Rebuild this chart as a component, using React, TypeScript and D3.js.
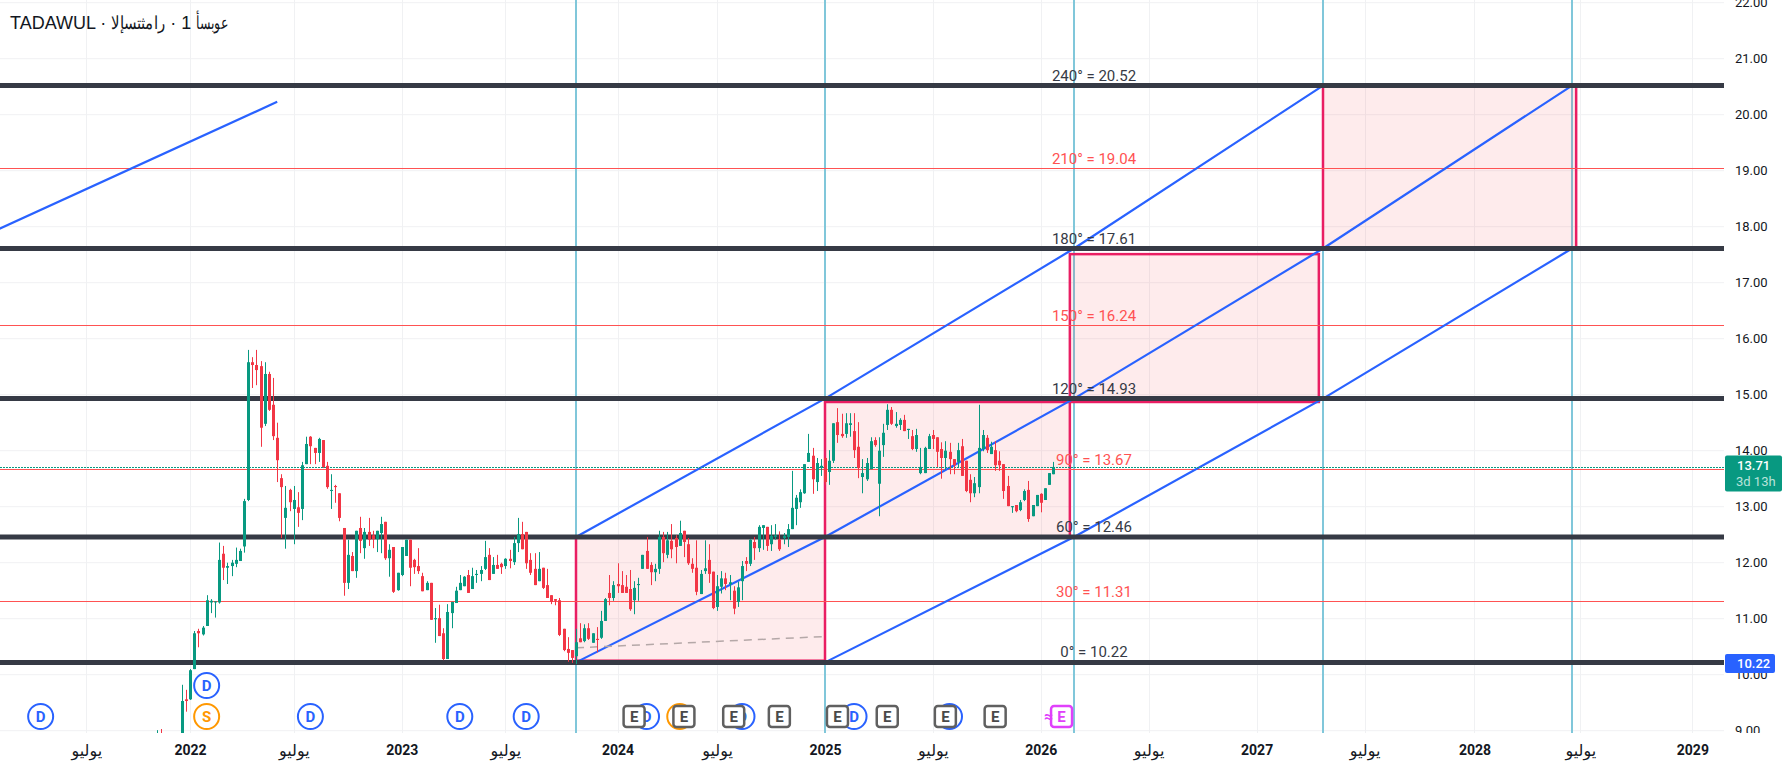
import { useEffect, useRef } from "react";
import * as d3 from "d3";

const WIDTH = 1789;
const HEIGHT = 768;
const PLOT_RIGHT = 1724;
const PLOT_BOTTOM = 733;

const FONT = "Roboto, 'Liberation Sans', 'DejaVu Sans', sans-serif";
const GREEN = "#089981";
const RED = "#f23645";
const BLUE = "#2962ff";
const PINK = "#e91e63";
const DARK = "#363a45";
const LEVEL_RED = "#ff5252";

// weekly candles, [open, high, low, close], first one is bar FIRST_BAR
const FIRST_BAR = -101;
const bars2021: number[][] = [
  [8.7, 9.01, 8.6, 8.9], [8.9, 9.03, 8.6, 8.7], [8.7, 8.85, 8.5, 8.6], [8.6, 8.8, 8.5, 8.7],
  [8.7, 8.9, 8.55, 8.6], [8.6, 8.85, 8.5, 8.7], [8.7, 9.82, 8.6, 9.53], [9.56, 9.73, 9.34, 9.53],
];
const bars2022: number[][] = [
  [9.56, 10.1, 9.55, 10.08], [10.1, 10.78, 10.1, 10.74], [10.78, 10.82, 10.49, 10.74], [10.72, 10.87, 10.7, 10.84],
  [10.87, 11.42, 10.87, 11.33], [11.29, 11.35, 11.1, 11.32], [11.29, 11.31, 11.02, 11.31], [11.29, 12.36, 11.27, 12.05],
  [12.16, 12.3, 11.69, 11.91], [11.91, 12.0, 11.62, 11.94], [11.94, 12.05, 11.76, 12.0], [11.98, 12.27, 11.92, 12.05],
  [12.03, 12.25, 12.03, 12.21], [12.29, 13.14, 12.18, 13.1], [13.12, 15.8, 13.1, 15.58], [15.58, 15.67, 15.12, 15.53],
  [15.53, 15.8, 15.17, 15.44], [15.51, 15.6, 14.07, 14.41], [14.48, 15.58, 14.44, 15.37], [15.37, 15.41, 14.71, 14.73],
  [14.82, 15.3, 14.19, 14.26], [14.23, 14.5, 13.44, 13.83], [13.51, 13.58, 12.44, 13.35], [12.8, 13.37, 12.25, 12.98],
  [13.3, 13.32, 12.92, 13.08], [12.96, 13.37, 12.33, 13.12], [12.99, 13.26, 12.64, 12.89], [12.96, 13.8, 12.76, 13.74],
  [13.76, 14.25, 13.76, 14.12], [14.25, 14.26, 13.76, 14.08], [14.05, 14.05, 13.76, 13.96], [13.96, 14.23, 13.8, 14.21],
  [14.19, 14.19, 13.69, 13.71], [13.73, 13.8, 13.32, 13.35], [13.28, 13.58, 12.96, 13.3], [13.37, 13.39, 13.07, 13.35],
  [13.24, 13.24, 12.74, 12.8], [12.62, 12.62, 11.41, 11.64], [11.64, 12.41, 11.53, 12.14], [12.12, 12.19, 11.85, 11.85],
  [11.85, 12.57, 11.73, 12.57], [12.62, 12.82, 12.17, 12.39], [12.26, 12.62, 12.07, 12.55], [12.55, 12.8, 12.3, 12.41],
  [12.49, 12.57, 12.26, 12.42], [12.42, 12.57, 12.19, 12.57], [12.53, 12.82, 12.17, 12.69], [12.73, 12.73, 12.05, 12.08],
  [12.08, 12.33, 11.75, 12.23], [12.28, 12.28, 11.46, 11.48], [11.51, 11.82, 11.5, 11.82], [11.78, 12.28, 11.76, 12.28],
];
const bars2023: number[][] = [
  [12.12, 12.41, 12.12, 12.41], [12.41, 12.41, 11.58, 11.91], [12.05, 12.07, 11.8, 11.92], [11.94, 12.26, 11.8, 11.85],
  [11.76, 11.82, 11.49, 11.49], [11.51, 11.67, 11.51, 11.64], [11.64, 11.64, 10.98, 10.98], [10.99, 11.19, 10.57, 11.01],
  [11.01, 11.25, 10.69, 10.69], [10.74, 10.83, 10.26, 10.28], [10.28, 11.26, 10.28, 11.12], [11.1, 11.3, 10.83, 11.3],
  [11.28, 11.57, 11.28, 11.5], [11.51, 11.78, 11.51, 11.64], [11.58, 11.76, 11.58, 11.75], [11.78, 11.87, 11.46, 11.46],
  [11.53, 11.91, 11.53, 11.76], [11.78, 11.87, 11.64, 11.8], [11.8, 11.94, 11.67, 11.87], [11.89, 12.39, 11.87, 12.1],
  [12.14, 12.26, 11.69, 11.69], [11.8, 12.1, 11.8, 11.96], [11.96, 12.14, 11.89, 11.89], [11.98, 12.0, 11.8, 11.92],
  [11.94, 12.08, 11.89, 12.07], [12.07, 12.23, 11.9, 12.03], [12.01, 12.46, 11.96, 12.35], [12.35, 12.8, 12.19, 12.51],
  [12.51, 12.73, 12.24, 12.24], [12.55, 12.55, 11.89, 11.99], [12.05, 12.17, 11.78, 11.82], [11.89, 12.17, 11.6, 11.6],
  [11.67, 12.19, 11.67, 11.89], [11.91, 11.91, 11.53, 11.55], [11.6, 11.89, 11.37, 11.37], [11.42, 11.42, 11.26, 11.3],
  [11.35, 11.35, 11.24, 11.32], [11.33, 11.37, 10.69, 10.71], [10.82, 10.82, 10.42, 10.44], [10.46, 10.67, 10.23, 10.39],
  [10.44, 10.44, 10.21, 10.3],
];
const bars2024: number[][] = [
  [10.33, 10.82, 10.19, 10.58], [10.65, 10.92, 10.58, 10.58], [10.6, 10.9, 10.58, 10.83], [10.83, 10.92, 10.62, 10.64],
  [10.57, 10.74, 10.57, 10.74], [10.64, 10.85, 10.4, 10.62], [10.66, 11.14, 10.64, 10.96], [10.96, 11.37, 10.96, 11.35],
  [11.46, 11.78, 11.24, 11.37], [11.37, 11.67, 11.32, 11.6], [11.62, 11.99, 11.46, 11.58], [11.6, 11.85, 11.46, 11.46],
  [11.57, 11.78, 11.46, 11.46], [11.53, 11.87, 11.14, 11.17], [11.33, 11.67, 11.08, 11.55], [11.6, 11.73, 11.32, 11.62],
  [11.89, 12.14, 11.89, 12.14], [12.21, 12.46, 11.89, 11.89], [11.96, 12.01, 11.6, 11.83], [11.83, 11.98, 11.67, 11.89],
  [11.89, 12.57, 11.8, 12.46], [12.46, 12.55, 12.01, 12.17], [12.14, 12.55, 12.08, 12.4], [12.39, 12.69, 12.08, 12.24],
  [12.44, 12.49, 11.99, 12.28], [12.3, 12.75, 12.3, 12.53], [12.57, 12.57, 12.1, 12.37], [12.33, 12.44, 11.96, 11.99],
  [11.98, 12.08, 11.82, 11.89], [11.91, 12.4, 11.42, 11.48], [11.44, 11.87, 11.44, 11.8], [11.85, 12.4, 11.8, 11.9],
  [12.05, 12.33, 11.64, 11.8], [11.84, 11.84, 11.17, 11.19], [11.21, 11.78, 11.14, 11.58], [11.57, 11.85, 11.45, 11.72],
  [11.72, 11.82, 11.51, 11.62], [11.62, 11.78, 11.33, 11.65], [11.5, 11.58, 11.08, 11.18], [11.3, 11.66, 11.21, 11.56],
  [11.67, 12.03, 11.33, 11.94], [12.03, 12.1, 11.85, 11.98], [11.98, 12.42, 11.94, 12.41], [12.37, 12.46, 12.05, 12.26],
  [12.26, 12.67, 12.19, 12.64], [12.62, 12.67, 12.23, 12.67], [12.64, 12.64, 12.21, 12.3], [12.33, 12.67, 12.21, 12.48],
  [12.46, 12.69, 12.41, 12.49], [12.42, 12.56, 12.21, 12.24], [12.44, 12.53, 12.33, 12.48], [12.46, 12.69, 12.28, 12.6],
  [12.6, 13.64, 12.6, 12.98], [12.96, 13.21, 12.67, 13.16], [13.08, 13.31, 12.98, 13.26], [13.24, 13.76, 13.23, 13.76],
  [13.8, 14.3, 13.8, 13.96], [13.91, 14.05, 13.23, 13.49], [13.44, 13.87, 13.28, 13.78], [13.69, 13.85, 13.55, 13.73],
];
const bars2025: number[][] = [
  [13.87, 13.87, 13.39, 13.44], [13.62, 14.01, 13.39, 13.82], [13.82, 14.49, 13.78, 14.49], [14.51, 14.76, 14.14, 14.28],
  [14.3, 14.66, 14.23, 14.26], [14.3, 14.67, 14.23, 14.49], [14.46, 14.67, 14.25, 14.49], [14.35, 14.67, 13.87, 14.01],
  [14.07, 14.51, 13.51, 13.69], [13.53, 13.85, 13.24, 13.6], [13.49, 13.87, 13.46, 13.78], [13.67, 14.24, 13.67, 14.17],
  [14.19, 14.24, 14.07, 14.1], [13.41, 14.24, 12.83, 14.0], [14.1, 14.48, 13.89, 14.32], [14.46, 14.83, 14.37, 14.73],
  [14.73, 14.78, 14.46, 14.48], [14.44, 14.69, 14.41, 14.48], [14.46, 14.58, 14.37, 14.55], [14.55, 14.64, 14.35, 14.35],
  [14.37, 14.39, 14.21, 14.39], [14.26, 14.37, 14.01, 14.03], [14.03, 14.39, 13.98, 14.28], [13.6, 14.05, 13.58, 13.71],
  [13.6, 14.07, 13.6, 14.05], [14.03, 14.3, 14.03, 14.26], [14.28, 14.37, 14.03, 14.21], [14.24, 14.24, 13.71, 13.98],
  [14.03, 14.15, 13.5, 13.87], [13.87, 14.17, 13.66, 14.0], [13.98, 14.14, 13.58, 13.85], [13.85, 13.85, 13.58, 13.74],
  [13.8, 14.14, 13.69, 14.01], [14.08, 14.21, 13.55, 13.55], [13.82, 13.82, 13.26, 13.28], [13.48, 13.58, 13.08, 13.24],
  [13.24, 13.53, 13.17, 13.42], [13.35, 14.82, 13.24, 14.05], [14.03, 14.37, 13.99, 14.28], [14.23, 14.28, 13.96, 14.01],
  [13.94, 14.16, 13.94, 14.07], [14.01, 14.17, 13.64, 13.74], [13.82, 13.99, 13.64, 13.74], [13.76, 13.76, 13.14, 13.28],
  [13.37, 13.55, 13.01, 13.01], [12.99, 13.01, 12.89, 13.01], [13.03, 13.03, 12.9, 12.92], [12.94, 13.12, 12.92, 13.08],
  [13.12, 13.31, 13.1, 13.28], [13.3, 13.46, 12.73, 12.78], [12.83, 13.03, 12.83, 13.03], [13.01, 13.21, 13.01, 13.21],
  [13.23, 13.24, 12.9, 13.07], [13.12, 13.33, 13.12, 13.33], [13.39, 13.6, 13.39, 13.6], [13.58, 13.8, 13.58, 13.71],
];

const priceTicks = [9, 10, 11, 12, 13, 14, 15, 16, 17, 18, 19, 20, 21, 22];
const timeTickBars = [-118, -93, -68, -42, -17, 10, 34, 60, 86, 112, 138, 164, 190, 216.5, 242, 269];
const timeTickLabels = ["يوليو", "2022", "يوليو", "2023", "يوليو", "2024", "يوليو", "2025", "يوليو", "2026", "يوليو", "2027", "يوليو", "2028", "يوليو", "2029"];

const cycleBars = [0, 60, 120, 180, 240];
const majorLevels = [10.22, 12.46, 14.93, 17.61, 20.52];
const majorAngles = [0, 60, 120, 180, 240];
const minorLevels = [11.31, 13.67, 16.24, 19.04];
const minorAngles = [30, 90, 150, 210];

// pink squares: bar from, bar to, low, high
const boxBars = [[0, 60], [60, 119], [119, 179], [180, 241]];
const boxPrices = [[10.25, 12.45], [12.47, 14.87], [14.87, 17.51], [17.61, 20.52]];

const fanMiddle = [10.22, 12.46, 14.93, 17.61, 20.52];
const fanUpper = [12.46, 14.93, 17.61, 20.52];
const fanLower = [10.22, 12.46, 14.93, 17.61];
const strayLineBars = [-139, -72];
const strayLinePrices = [17.96, 20.23];
const dashedBars = [0, 59.5];
const dashedPrices = [10.48, 10.68];

const dividendBars = [-129, -89, -64, -28, -12, 17, 40, 67, 90];
const dividendRows = [0, 1, 0, 0, 0, 0, 0, 0, 0];
const splitBars = [-89, 25];
const earningsBars = [14, 26, 38, 49, 63, 75, 89, 101];
const nextEarningsBar = 117;

const LAST_PRICE = 13.71;
const BASE_PRICE = 10.22;

export default function App() {
  const ref = useRef<HTMLDivElement>(null);

  useEffect(() => {
    if (!ref.current) return undefined;
    document.body.style.margin = "0";
    document.body.style.background = "#fff";

    const svg = d3
      .select(ref.current)
      .html("")
      .append("svg")
      .attr("width", WIDTH)
      .attr("height", HEIGHT)
      .attr("viewBox", `0 0 ${WIDTH} ${HEIGHT}`)
      .style("display", "block")
      .style("font-family", FONT);

    const x = d3.scaleLinear().domain([0, 240]).range([576, 1572]);
    const y = d3.scaleLinear().domain([9, 14]).range([730.7, 450.7]);

    svg.append("clipPath").attr("id", "plot").append("rect").attr("width", PLOT_RIGHT).attr("height", PLOT_BOTTOM);
    svg.append("clipPath").attr("id", "axis").append("rect").attr("width", WIDTH).attr("height", PLOT_BOTTOM);

    const plot = svg.append("g").attr("clip-path", "url(#plot)");

    // grid
    plot
      .selectAll("line.gy")
      .data(priceTicks)
      .join("line")
      .attr("class", "gy")
      .attr("x1", 0)
      .attr("x2", PLOT_RIGHT)
      .attr("y1", (d) => y(d))
      .attr("y2", (d) => y(d))
      .attr("stroke", "#f0f1f3");
    plot
      .selectAll("line.gx")
      .data(timeTickBars)
      .join("line")
      .attr("class", "gx")
      .attr("x1", (d) => Math.round(x(d)) + 0.5)
      .attr("x2", (d) => Math.round(x(d)) + 0.5)
      .attr("y1", 0)
      .attr("y2", PLOT_BOTTOM)
      .attr("stroke", "#f0f1f3");

    // cycle verticals
    plot
      .selectAll("line.cycle")
      .data(cycleBars)
      .join("line")
      .attr("class", "cycle")
      .attr("x1", (d) => x(d))
      .attr("x2", (d) => x(d))
      .attr("y1", 0)
      .attr("y2", PLOT_BOTTOM)
      .attr("stroke", "#80c7da")
      .attr("stroke-width", 2);

    // pink squares
    plot
      .selectAll("rect.box")
      .data(boxBars)
      .join("rect")
      .attr("class", "box")
      .attr("x", (d) => x(d[0]))
      .attr("width", (d) => x(d[1]) - x(d[0]))
      .attr("y", (_, i) => y(boxPrices[i][1]))
      .attr("height", (_, i) => y(boxPrices[i][0]) - y(boxPrices[i][1]))
      .attr("fill", "rgba(242, 54, 69, 0.1)")
      .attr("stroke", PINK)
      .attr("stroke-width", 2.5);

    // minor levels
    plot
      .selectAll("line.minor")
      .data(minorLevels)
      .join("line")
      .attr("class", "minor")
      .attr("x1", 0)
      .attr("x2", PLOT_RIGHT)
      .attr("y1", (d) => Math.round(y(d)) + 0.5)
      .attr("y2", (d) => Math.round(y(d)) + 0.5)
      .attr("stroke", LEVEL_RED);

    const line = d3
      .line<[number, number]>()
      .x((d) => x(d[0]))
      .y((d) => y(d[1]));

    // fan lines
    const fans: [number, number][][] = [
      fanMiddle.map((p, i) => [cycleBars[i], p]),
      fanUpper.map((p, i) => [cycleBars[i], p]),
      fanLower.map((p, i) => [cycleBars[i + 1], p]),
      strayLinePrices.map((p, i) => [strayLineBars[i], p]),
    ];
    plot
      .selectAll("path.fan")
      .data(fans)
      .join("path")
      .attr("class", "fan")
      .attr("d", (d) => line(d))
      .attr("fill", "none")
      .attr("stroke", BLUE)
      .attr("stroke-width", 2.2);

    plot
      .append("path")
      .attr("d", line(dashedPrices.map((p, i) => [dashedBars[i], p] as [number, number])))
      .attr("fill", "none")
      .attr("stroke", "#b5a8a8")
      .attr("stroke-width", 1.5)
      .attr("stroke-dasharray", "8 6");

    // major levels
    plot
      .selectAll("line.major")
      .data(majorLevels)
      .join("line")
      .attr("class", "major")
      .attr("x1", 0)
      .attr("x2", PLOT_RIGHT)
      .attr("y1", (d) => y(d))
      .attr("y2", (d) => y(d))
      .attr("stroke", DARK)
      .attr("stroke-width", 5);

    // level labels
    const levelLabel = (levels: number[], angles: number[], color: string, gap: number) =>
      plot
        .append("g")
        .selectAll("text")
        .data(levels)
        .join("text")
        .attr("x", x(120) + 20)
        .attr("y", (d) => y(d) - gap)
        .attr("text-anchor", "middle")
        .attr("font-size", 15)
        .attr("fill", color)
        .text((d, i) => `${angles[i]}° = ${d3.format(".2f")(d)}`);
    levelLabel(majorLevels, majorAngles, DARK, 5);
    levelLabel(minorLevels, minorAngles, LEVEL_RED, 4);

    // last price
    plot
      .append("line")
      .attr("x1", 0)
      .attr("x2", PLOT_RIGHT)
      .attr("y1", Math.round(y(LAST_PRICE)) + 0.5)
      .attr("y2", Math.round(y(LAST_PRICE)) + 0.5)
      .attr("stroke", GREEN)
      .attr("stroke-dasharray", "2 1");

    // candles
    const candles = [...bars2021, ...bars2022, ...bars2023, ...bars2024, ...bars2025].map(
      ([open, high, low, close], i) => ({ bar: FIRST_BAR + i, open, high, low, close }),
    );
    const candle = plot
      .append("g")
      .selectAll("g")
      .data(candles)
      .join("g")
      .attr("fill", (d) => (d.close >= d.open ? GREEN : RED));
    candle
      .append("rect")
      .attr("x", (d) => Math.round(x(d.bar)))
      .attr("width", 1)
      .attr("y", (d) => y(d.high))
      .attr("height", (d) => y(d.low) - y(d.high));
    candle
      .append("rect")
      .attr("x", (d) => Math.round(x(d.bar)) - 1)
      .attr("width", 3)
      .attr("y", (d) => y(Math.max(d.open, d.close)))
      .attr("height", (d) => Math.max(1, Math.abs(y(d.open) - y(d.close))));

    // event badges
    const ROW_Y = 716.5;
    const circleBadge = (bar: number, cy: number, color: string, letter: string) => {
      const g = plot.append("g").attr("transform", `translate(${x(bar)},${cy})`);
      g.append("circle").attr("r", 12.5).attr("fill", "#fff").attr("stroke", color).attr("stroke-width", 2);
      g.append("text")
        .attr("text-anchor", "middle")
        .attr("dy", "0.36em")
        .attr("font-size", 15)
        .attr("font-weight", 700)
        .attr("fill", color)
        .text(letter);
    };
    dividendBars.forEach((bar, i) => circleBadge(bar, ROW_Y - dividendRows[i] * 31, BLUE, "D"));
    splitBars.forEach((bar) => circleBadge(bar, ROW_Y, "#ff9800", "S"));

    const earningsBadge = (bar: number, color: string, ink: string) => {
      const g = plot.append("g").attr("transform", `translate(${x(bar)},${ROW_Y})`);
      g.append("rect")
        .attr("x", -10.5)
        .attr("y", -10.5)
        .attr("width", 21)
        .attr("height", 21)
        .attr("rx", 3)
        .attr("fill", "#fff")
        .attr("stroke", color)
        .attr("stroke-width", 2.5);
      g.append("text")
        .attr("text-anchor", "middle")
        .attr("dy", "0.36em")
        .attr("font-size", 15)
        .attr("font-weight", 700)
        .attr("fill", ink)
        .text("E");
      return g;
    };
    earningsBars.forEach((bar) => earningsBadge(bar, "#606060", "#4a4a4a"));
    earningsBadge(nextEarningsBar, "#e040fb", "#e040fb")
      .append("text")
      .attr("x", -13)
      .attr("text-anchor", "middle")
      .attr("dy", "0.36em")
      .attr("font-size", 16)
      .attr("font-weight", 700)
      .attr("fill", "#e040fb")
      .text("≈");

    // price axis
    const yAxis = svg
      .append("g")
      .attr("clip-path", "url(#axis)")
      .append("g")
      .attr("transform", `translate(${PLOT_RIGHT},0)`)
      .call(d3.axisRight(y).tickValues(priceTicks).tickSize(0).tickPadding(11).tickFormat(d3.format(".2f")));
    yAxis.select(".domain").remove();
    yAxis.selectAll("text").attr("font-family", FONT).attr("font-size", 13).attr("fill", "#131722");

    // time axis
    const isYear = (label: string) => /^\d+$/.test(label);
    const xAxis = svg
      .append("g")
      .attr("transform", `translate(0,${PLOT_BOTTOM})`)
      .call(
        d3
          .axisBottom(x)
          .tickValues(timeTickBars)
          .tickSize(0)
          .tickPadding(12)
          .tickFormat((_, i) => timeTickLabels[i]),
      );
    xAxis.select(".domain").remove();
    xAxis
      .selectAll("text")
      .attr("font-family", FONT)
      .attr("font-size", (_, i) => (isYear(timeTickLabels[i]) ? 14 : 16))
      .attr("font-weight", (_, i) => (isYear(timeTickLabels[i]) ? 700 : 400))
      .attr("fill", "#131722");

    // price badges
    const lastBadge = svg.append("g").attr("transform", `translate(${PLOT_RIGHT + 1},${y(LAST_PRICE) - 11.5})`);
    lastBadge.append("rect").attr("width", 57).attr("height", 36).attr("rx", 2).attr("fill", GREEN);
    lastBadge
      .append("text")
      .attr("x", 12)
      .attr("y", 15)
      .attr("font-size", 13)
      .attr("font-weight", 500)
      .attr("fill", "#fff")
      .text(d3.format(".2f")(LAST_PRICE));
    lastBadge.append("text").attr("x", 11).attr("y", 31).attr("font-size", 13).attr("fill", "#b9e3da").text("3d 13h");

    const baseBadge = svg.append("g").attr("transform", `translate(${PLOT_RIGHT + 1},${y(BASE_PRICE) - 8.5})`);
    baseBadge.append("rect").attr("width", 50).attr("height", 19).attr("rx", 2).attr("fill", BLUE);
    baseBadge
      .append("text")
      .attr("x", 12)
      .attr("y", 14.5)
      .attr("font-size", 13)
      .attr("font-weight", 500)
      .attr("fill", "#fff")
      .text(d3.format(".2f")(BASE_PRICE));

    // title, the reference lays the arabic out left to right, hence the override
    const title = svg
      .append("text")
      .attr("x", 10)
      .attr("y", 29)
      .style("direction", "ltr")
      .style("unicode-bidi", "bidi-override")
      .attr("font-family", "'Liberation Sans', Arial, sans-serif")
      .attr("font-size", 18)
      .attr("fill", "#131722");
    const titlePart = (text: string, length?: number) => {
      const part = title.append("tspan").style("direction", "ltr").style("unicode-bidi", "bidi-override").text(text);
      if (length) part.attr("textLength", length).attr("lengthAdjust", "spacingAndGlyphs");
    };
    titlePart("TADAWUL · ");
    titlePart("الإستثمار", 54);
    titlePart(" · 1 ");
    titlePart("أسبوع", 32);

    return undefined;
  }, []);

  return <div ref={ref} />;
}
